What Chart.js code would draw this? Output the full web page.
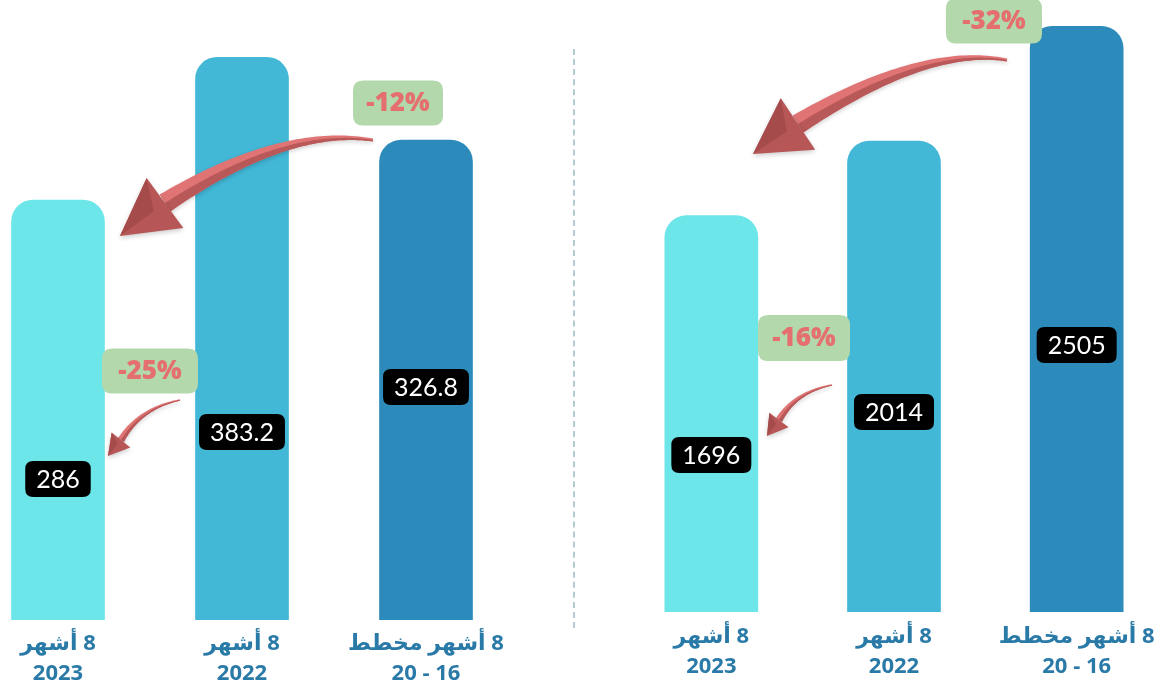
<!DOCTYPE html>
<html>
<head>
<meta charset="utf-8">
<script src="https://cdn.jsdelivr.net/npm/chart.js@4.4.1/dist/chart.umd.min.js"></script>
<style>
  html, body { margin:0; padding:0; background:#ffffff; }
  body { width:1162px; height:686px; overflow:hidden; position:relative; }
  .wrap { position:absolute; top:0; height:686px; }
  #divider { position:absolute; left:573px; top:49px; height:579px; width:0; border-left:2px dashed #b3cbd2; }
</style>
</head>
<body>
<div class="wrap" style="left:-34px;width:552px;"><canvas id="left" width="552" height="686" dir="rtl"></canvas></div>
<div id="divider"></div>
<div class="wrap" style="left:620px;width:548px;"><canvas id="right" width="548" height="686" dir="rtl"></canvas></div>
<script>
// ---------- DATA ----------
const categories = [['8 أشهر', '2023'], ['8 أشهر', '2022'], ['8 أشهر مخطط', '16 - 20']];
const leftValues = [286, 383.2, 326.8];
const leftValueLabels = ['286', '383.2', '326.8'];
const leftChanges = ['-12%', '-25%'];
const rightValues = [1696, 2014, 2505];
const rightValueLabels = ['1696', '2014', '2505'];
const rightChanges = ['-32%', '-16%'];

// ---------- STYLE ----------
const barColors = ['#6ce6e8', '#42b7d6', '#2c8bba'];
const labelColor = '#2a7aa8';
const FONT = "Lato, 'DejaVu Sans', sans-serif";
const TICKFONT = "'Open Sans', 'DejaVu Sans', sans-serif";

function roundRect(ctx, x, y, w, h, r) {
  ctx.beginPath();
  ctx.moveTo(x + r, y);
  ctx.lineTo(x + w - r, y);
  ctx.quadraticCurveTo(x + w, y, x + w, y + r);
  ctx.lineTo(x + w, y + h - r);
  ctx.quadraticCurveTo(x + w, y + h, x + w - r, y + h);
  ctx.lineTo(x + r, y + h);
  ctx.quadraticCurveTo(x, y + h, x, y + h - r);
  ctx.lineTo(x, y + r);
  ctx.quadraticCurveTo(x, y, x + r, y);
  ctx.closePath();
}

function drawArrow(ctx, a) {
  const P0 = a.tail, C = a.ctrl, P1 = a.base, T = a.tip;
  const N = 50;
  const left = [], right = [], mid = [];
  for (let i = 0; i <= N; i++) {
    const t = i / N;
    const x = (1-t)*(1-t)*P0[0] + 2*(1-t)*t*C[0] + t*t*P1[0];
    const y = (1-t)*(1-t)*P0[1] + 2*(1-t)*t*C[1] + t*t*P1[1];
    let dx = 2*(1-t)*(C[0]-P0[0]) + 2*t*(P1[0]-C[0]);
    let dy = 2*(1-t)*(C[1]-P0[1]) + 2*t*(P1[1]-C[1]);
    const L = Math.hypot(dx, dy); dx /= L; dy /= L;
    const nx = -dy, ny = dx;
    const w = a.w0 + (a.w1 - a.w0) * Math.pow(t, 1.3);
    left.push([x + nx*w/2, y + ny*w/2]);
    right.push([x - nx*w/2, y - ny*w/2]);
    mid.push([x, y]);
  }
  ctx.save();
  ctx.shadowColor = 'rgba(0,0,0,0.18)';
  ctx.shadowBlur = 4;
  ctx.shadowOffsetY = 2;
  ctx.beginPath();
  ctx.moveTo(left[0][0], left[0][1]);
  left.forEach(p => ctx.lineTo(p[0], p[1]));
  for (let i = right.length - 1; i >= 0; i--) ctx.lineTo(right[i][0], right[i][1]);
  ctx.closePath();
  ctx.fillStyle = '#e07474';
  ctx.fill();
  ctx.shadowColor = 'transparent';
  ctx.beginPath();
  ctx.moveTo(mid[0][0], mid[0][1]);
  mid.forEach(p => ctx.lineTo(p[0], p[1]));
  for (let i = right.length - 1; i >= 0; i--) ctx.lineTo(right[i][0], right[i][1]);
  ctx.closePath();
  ctx.fillStyle = '#b85858';
  ctx.fill();
  let dx = T[0] - P1[0], dy = T[1] - P1[1];
  const L = Math.hypot(dx, dy); dx /= L; dy /= L;
  const px = -dy, py = dx;
  const c1 = [P1[0] + px*a.headW/2, P1[1] + py*a.headW/2];
  const c2 = [P1[0] - px*a.headW/2, P1[1] - py*a.headW/2];
  ctx.shadowColor = 'rgba(0,0,0,0.2)';
  ctx.shadowBlur = 5;
  ctx.shadowOffsetY = 2;
  ctx.beginPath();
  ctx.moveTo(c1[0], c1[1]); ctx.lineTo(T[0], T[1]); ctx.lineTo(c2[0], c2[1]); ctx.closePath();
  ctx.fillStyle = '#b75656';
  ctx.fill();
  ctx.shadowColor = 'transparent';
  ctx.beginPath();
  ctx.moveTo(c1[0], c1[1]); ctx.lineTo(T[0], T[1]); ctx.lineTo(P1[0]+dx*L*0.25, P1[1]+dy*L*0.25); ctx.closePath();
  ctx.fillStyle = '#a64b4b';
  ctx.fill();
  ctx.restore();
}

function drawChangeBox(ctx, text, cx, cy, w, h) {
  ctx.save();
  roundRect(ctx, cx - w/2, cy - h/2, w, h, 10);
  ctx.fillStyle = '#b2d8ac';
  ctx.fill();
  ctx.fillStyle = '#e56f6f';
  ctx.font = "800 26px 'Open Sans', sans-serif";
  ctx.textAlign = 'center';
  ctx.textBaseline = 'middle';
  ctx.direction = 'ltr';
  ctx.fillText(text, cx, cy + 1);
  ctx.restore();
}

function drawValueBox(ctx, text, cx, cy) {
  ctx.save();
  ctx.font = "25px " + FONT;
  ctx.direction = 'ltr';
  const tw = ctx.measureText(text).width;
  const w = tw + 22, h = 36;
  roundRect(ctx, cx - w/2, cy - h/2, w, h, 8);
  ctx.fillStyle = '#000000';
  ctx.fill();
  ctx.fillStyle = '#ffffff';
  ctx.textAlign = 'center';
  ctx.textBaseline = 'middle';
  ctx.fillText(text, cx, cy + 1);
  ctx.restore();
}

const overlayPlugin = {
  id: 'overlay',
  afterDatasetsDraw(chart, args, opts) {
    const ctx = chart.ctx;
    ctx.save();
    ctx.translate(-opts.pageLeft, 0);
    opts.arrows.forEach(a => drawArrow(ctx, a));
    opts.boxes.forEach(b => drawChangeBox(ctx, b.text, b.cx, b.cy, b.w, b.h));
    ctx.restore();
    const meta = chart.getDatasetMeta(0);
    meta.data.forEach((bar, i) => {
      drawValueBox(ctx, opts.valueLabels[i], bar.x, opts.labelY[i]);
    });
  }
};

function makeChart(id, values, yMax, axisHeight, tickPad, overlay) {
  return new Chart(document.getElementById(id), {
    type: 'bar',
    data: {
      labels: categories,
      datasets: [{
        data: values,
        backgroundColor: barColors,
        borderWidth: 0,
        borderRadius: 22,
        borderSkipped: 'bottom',
        barThickness: 93
      }]
    },
    options: {
      responsive: false,
      animation: false,
      devicePixelRatio: 1,
      layout: { padding: 0 },
      plugins: { legend: { display: false }, tooltip: { enabled: false }, overlay: overlay },
      scales: {
        x: {
          grid: { display: false },
          border: { display: false },
          ticks: {
            color: labelColor,
            font: { family: TICKFONT, size: 22, weight: 'bold', lineHeight: 1.36 },
            maxRotation: 0, minRotation: 0, autoSkip: false, padding: tickPad
          },
          afterFit: (scale) => { scale.height = axisHeight; }
        },
        y: { display: false, min: 0, max: yMax }
      }
    },
    plugins: [overlayPlugin]
  });
}

makeChart('left', leftValues, 422.2, 66, 1, {
  pageLeft: -34,
  valueLabels: leftValueLabels,
  labelY: [479, 432, 387],
  arrows: [
    { tail: [373, 140], ctrl: [285, 126], base: [165, 203], tip: [120, 236], w0: 3, w1: 20, headW: 62 },
    { tail: [180, 400], ctrl: [140, 408], base: [121, 440], tip: [108, 456], w0: 1.5, w1: 7, headW: 24 }
  ],
  boxes: [
    { text: leftChanges[0], cx: 398, cy: 103, w: 90, h: 45 },
    { text: leftChanges[1], cx: 150, cy: 371, w: 96, h: 45 }
  ]
});

makeChart('right', rightValues, 2618, 74, 2, {
  pageLeft: 620,
  valueLabels: rightValueLabels,
  labelY: [455, 412, 345],
  arrows: [
    { tail: [1007, 60], ctrl: [925, 45], base: [798, 124], tip: [753, 154], w0: 3, w1: 20, headW: 62 },
    { tail: [832, 385], ctrl: [795, 392], base: [779, 420], tip: [767, 436], w0: 1.5, w1: 7, headW: 24 }
  ],
  boxes: [
    { text: rightChanges[0], cx: 994, cy: 21, w: 96, h: 45 },
    { text: rightChanges[1], cx: 804, cy: 338, w: 92, h: 46 }
  ]
});
</script>
</body>
</html>
